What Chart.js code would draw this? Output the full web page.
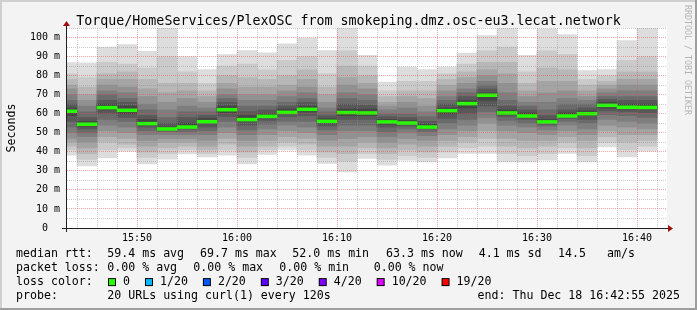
<!DOCTYPE html>
<html>
<head>
<meta charset="utf-8">
<script src="https://cdn.jsdelivr.net/npm/chart.js@4.4.1/dist/chart.umd.min.js"></script>
<style>
  html, body { margin: 0; padding: 0; background: #f3f3f3; }
  canvas { display: block; }
</style>
</head>
<body>
<canvas id="graph" width="697" height="310"></canvas>
<script>
// one bar every 2 minutes, labelled by its centre time
const slots = ['15:43', '15:45', '15:47', '15:49', '15:51', '15:53', '15:55', '15:57', '15:59', '16:01',
               '16:03', '16:05', '16:07', '16:09', '16:11', '16:13', '16:15', '16:17', '16:19', '16:21',
               '16:23', '16:25', '16:27', '16:29', '16:31', '16:33', '16:35', '16:37', '16:39', '16:41'];

// median rtt (ms) per bar
const medians = [61.3, 54.5, 63.2, 61.8, 54.8, 52.0, 53.0, 55.8, 62.1, 56.9,
                 58.6, 60.7, 62.3, 56.0, 60.6, 60.4, 55.7, 55.1, 53.0, 61.6,
                 65.3, 69.7, 60.4, 58.8, 55.7, 58.8, 60.0, 64.4, 63.4, 63.3];

// the 20 sorted pings (ms) of every bar
const pings = [
  [38.2, 41, 43, 45, 47, 50, 53, 56, 59, 61, 61.6, 63, 65, 67, 70, 73, 75, 78, 81, 86.8],
  [32.6, 36, 39, 42, 45, 48, 50, 52, 53.5, 54.3, 54.7, 56, 58, 61, 64, 67, 70, 74, 79, 86.7],
  [36.8, 41, 45, 48, 51, 54, 57, 60, 62, 63, 63.4, 65, 67, 70, 72, 75, 78, 81, 87, 95],
  [40.3, 42, 44, 47, 50, 53, 56, 58, 60, 61.5, 62.1, 64, 66, 68, 71, 74, 78, 82, 86, 96.3],
  [33.7, 37, 40, 43, 46, 49, 51, 53, 54, 54.6, 55, 57, 59, 62, 65, 69, 73, 78, 84, 92.7],
  [36.1, 39, 42, 45, 47, 49, 50.5, 51, 51.5, 51.8, 52.2, 53, 55, 58, 62, 66, 71, 76, 90, 109],
  [38.9, 41, 43, 45, 47, 49, 50.5, 52, 52.6, 52.9, 53.1, 55, 58, 61, 64, 68, 72, 76, 82, 90],
  [37.3, 39, 41, 43, 46, 49, 51, 53, 55, 55.6, 56, 57.5, 59, 61, 63, 66, 69, 72, 76, 83.2],
  [38.2, 41, 44, 47, 50, 53, 56, 58.5, 60.5, 61.8, 62.4, 64, 66, 68, 70, 73, 76, 80, 85, 91],
  [33.7, 37, 40, 43, 46, 49, 51.5, 54, 56, 56.7, 57.1, 59, 61, 64, 67, 70, 74, 79, 86, 93.2],
  [38.6, 41, 43, 46, 49, 52, 54.5, 56.5, 58, 58.4, 58.8, 60, 62, 64, 67, 70, 74, 78, 83, 92],
  [41, 43, 45, 48, 51, 54, 56, 58.5, 60, 60.5, 60.9, 62.5, 64, 66, 69, 72, 75, 80, 88, 96.7],
  [38.2, 41, 44, 47, 50, 53, 56, 59, 61, 62.1, 62.5, 64, 66, 68, 71, 74, 78, 83, 90, 99.6],
  [33.9, 37, 40, 43, 46, 49, 51.5, 53.5, 55, 55.8, 56.2, 57.5, 59, 61, 63, 66, 70, 74, 81, 93.2],
  [29.5, 35, 39, 43, 47, 51, 54, 57, 59, 60.4, 60.8, 62.5, 65, 68, 71, 75, 79, 85, 93, 110],
  [36.5, 39, 42, 45, 48, 51, 54, 57, 59, 60.2, 60.6, 62.5, 64.5, 67, 70, 73, 76, 80, 85, 90.6],
  [33, 36, 39, 42, 45, 48, 50.5, 53, 54.5, 55.5, 55.9, 57, 58.5, 60, 62, 64, 66, 69, 72, 76.6],
  [35.6, 38, 41, 44, 47, 50, 52, 53.5, 54.5, 55, 55.2, 56.5, 58, 60, 63, 66, 69, 72, 77, 84.5],
  [34.7, 37, 40, 43, 46, 48.5, 50.5, 52, 52.7, 52.9, 53.1, 54.5, 56, 58.5, 61, 64, 68, 72, 77, 83.2],
  [36.8, 40, 43, 46, 49, 52, 55, 57.5, 60, 61.4, 61.8, 63, 65, 67, 69, 72, 75, 78, 81, 84.5],
  [39.1, 42, 45, 48, 51, 54, 57, 60, 63, 65, 65.6, 67, 69, 71, 73, 76, 79, 82, 86, 91.8],
  [39.1, 43, 47, 51, 55, 58, 61, 64, 67, 69.5, 69.9, 71, 73, 75, 77, 80, 83, 87, 93, 101],
  [34.7, 39, 43, 47, 51, 54, 56.5, 58.5, 59.5, 60.2, 60.6, 62, 64, 67, 71, 76, 81, 87, 95, 110],
  [34.7, 38, 42, 46, 50, 53, 55, 57, 58, 58.6, 59, 60.5, 62, 64, 66, 69, 72, 76, 82, 90.6],
  [35.6, 39, 43, 46, 49, 51.5, 53.5, 54.5, 55.2, 55.5, 55.9, 57, 59, 62, 66, 71, 77, 84, 93, 104.5],
  [39.1, 42, 45, 48, 51, 54, 56, 57.5, 58.3, 58.6, 59, 60.5, 62, 65, 68, 72, 77, 83, 91, 101.6],
  [34.7, 38, 42, 46, 49, 52, 55, 57, 59, 59.8, 60.2, 61.5, 63, 65, 67, 69, 72, 75, 78, 82.7],
  [42.6, 45, 48, 51, 54, 57, 59.5, 61.5, 63, 64.2, 64.6, 66, 67.5, 69, 71, 73, 75, 77, 80, 83.2],
  [37.3, 41, 45, 49, 53, 56, 59, 61, 62.5, 63.2, 63.6, 65, 67, 69, 72, 75, 78, 82, 88, 98.4],
  [40.3, 43, 46, 49, 52, 55, 58, 60.5, 62.5, 63.1, 63.5, 65, 67, 69, 72, 75, 78, 82, 90, 110]
];

const xTickLabels = ['15:50', '16:00', '16:10', '16:20', '16:30', '16:40'];
const yMax = 105;

const lossLabels = ['0', '1/20', '2/20', '3/20', '4/20', '10/20', '19/20'];
const lossColors = ['#26ff00', '#00b8ff', '#0059ff', '#5e00ff', '#7e00ff', '#dd00ff', '#ff0000'];

const title = 'Torque/HomeServices/PlexOSC from smokeping.dmz.osc-eu3.lecat.network';
const rttStats = ['59.4 ms avg', '69.7 ms max', '52.0 ms min', '63.3 ms now', '4.1 ms sd', '14.5', 'am/s'];
const lossStats = ['0.00 % avg', '0.00 % max', '0.00 % min', '0.00 % now'];
const probeText = '20 URLs using curl(1) every 120s';
const endText = 'end: Thu Dec 18 16:42:55 2025';

const MONO = '"DejaVu Sans Mono", monospace';
const toMin = s => { const [h, m] = s.split(':').map(Number); return (h - 15) * 60 + m; };
const xMin = toMin(slots[0]);
const xMax = xMin + 60;

// smokeping greys: outer pair light, inner pair dark
const grey = i => { const g = Math.round(190 / 10 * (10 - i)) + 50; return `rgb(${g},${g},${g})`; };

const barBase = { grouped: false, barPercentage: 1, categoryPercentage: 1, borderWidth: 0 };
const datasets = [{
    ...barBase,
    label: 'median',
    data: slots.map((s, k) => ({ x: toMin(s), y: [medians[k] - 0.75, medians[k] + 0.75] })),
    backgroundColor: lossColors[0],
    order: 0
}];
for (let i = 10; i >= 1; i--) {
    datasets.push({
        ...barBase,
        label: 'smoke' + i,
        data: slots.map((s, k) => ({ x: toMin(s), y: [pings[k][i - 1], pings[k][20 - i]] })),
        backgroundColor: grey(i),
        order: 11 - i
    });
}

const GRID = 'rgba(143,143,143,0.45)';
const MGRID = 'rgba(222,81,81,0.5)';

const rrdLook = {
    id: 'rrdLook',
    beforeDraw(chart) {
        const { ctx, width, height, chartArea: a } = chart;
        ctx.save();
        ctx.fillStyle = '#f3f3f3';
        ctx.fillRect(0, 0, width, height);
        ctx.fillStyle = '#cfcfcf';
        ctx.fillRect(0, 0, width, 2);
        ctx.fillRect(0, 0, 2, height);
        ctx.fillStyle = '#9e9e9e';
        ctx.fillRect(0, height - 2, width, 2);
        ctx.fillRect(width - 2, 0, 2, height);
        ctx.fillStyle = '#ffffff';
        ctx.fillRect(a.left, a.top, a.right - a.left, a.bottom - a.top);
        ctx.restore();
    },
    afterDraw(chart) {
        const { ctx, chartArea: a } = chart;
        ctx.save();
        // axes with arrows
        ctx.strokeStyle = '#202020';
        ctx.lineWidth = 1;
        ctx.beginPath();
        ctx.moveTo(a.left - 5, a.bottom + 0.5);
        ctx.lineTo(a.right + 3, a.bottom + 0.5);
        ctx.moveTo(a.left - 0.5, a.bottom + 4);
        ctx.lineTo(a.left - 0.5, a.top - 4);
        ctx.stroke();
        ctx.fillStyle = '#a01010';
        ctx.beginPath();
        ctx.moveTo(a.right + 6, a.bottom + 0.5);
        ctx.lineTo(a.right + 1, a.bottom - 3);
        ctx.lineTo(a.right + 1, a.bottom + 4);
        ctx.closePath();
        ctx.fill();
        ctx.beginPath();
        ctx.moveTo(a.left - 0.5, a.top - 7);
        ctx.lineTo(a.left - 4, a.top - 2);
        ctx.lineTo(a.left + 3, a.top - 2);
        ctx.closePath();
        ctx.fill();

        // title
        ctx.fillStyle = '#000';
        ctx.font = '13.3px ' + MONO;
        ctx.textAlign = 'center';
        ctx.textBaseline = 'alphabetic';
        ctx.fillText(title, 348.5, 24.5);

        // vertical texts
        ctx.font = '11.6px ' + MONO;
        ctx.save();
        ctx.translate(15, (a.top + a.bottom) / 2);
        ctx.rotate(-Math.PI / 2);
        ctx.fillText('Seconds', 0, 0);
        ctx.restore();
        ctx.save();
        ctx.translate(685, 5);
        ctx.rotate(Math.PI / 2);
        ctx.textAlign = 'left';
        ctx.fillStyle = '#b4b4b4';
        ctx.font = '8.3px ' + MONO;
        ctx.fillText('RRDTOOL / TOBI OETIKER', 0, 0);
        ctx.restore();

        // legend
        ctx.textAlign = 'left';
        ctx.font = '11.6px ' + MONO;
        const rows = [257.3, 271.2, 285.1, 299];
        ctx.fillText('median rtt:', 16, rows[0]);
        [107.3, 200, 292.3, 386, 478.7, 558, 607].forEach((x, k) => ctx.fillText(rttStats[k], x, rows[0]));
        ctx.fillText('packet loss:', 16, rows[1]);
        [107.3, 193.3, 279.3, 373.7].forEach((x, k) => ctx.fillText(lossStats[k], x, rows[1]));
        ctx.fillText('loss color:', 16, rows[2]);
        let x = 108;
        lossLabels.forEach((lab, k) => {
            ctx.fillStyle = '#000';
            ctx.fillRect(x, rows[2] - 7, 8, 8);
            ctx.fillStyle = lossColors[k];
            ctx.fillRect(x + 1, rows[2] - 6, 6, 6);
            ctx.fillStyle = '#000';
            ctx.fillText(lab, x + 15, rows[2]);
            x += 15 + ctx.measureText(lab).width + 15;
        });
        ctx.fillText('probe:', 16, rows[3]);
        ctx.fillText(probeText, 107.3, rows[3]);
        ctx.textAlign = 'right';
        ctx.fillText(endText, 680, rows[3]);
        ctx.restore();
    }
};

const xTicks = [];
for (let m = Math.ceil(xMin / 2) * 2; m <= xMax; m += 2) xTicks.push(m);
const yTicks = [];
for (let v = 0; v <= yMax; v += 5) yTicks.push(v);

new Chart(document.getElementById('graph'), {
    type: 'bar',
    data: { datasets: datasets },
    options: {
        responsive: false,
        animation: false,
        layout: { padding: { left: 0, right: 30, top: 28, bottom: 62 } },
        plugins: { legend: { display: false }, tooltip: { enabled: false }, title: { display: false } },
        scales: {
            x: {
                type: 'linear',
                min: xMin,
                max: xMax,
                offset: false,
                afterBuildTicks: s => { s.ticks = xTicks.map(v => ({ value: v })); },
                afterFit: s => { s.height = 20; },
                grid: {
                    offset: false,
                    z: 1,
                    drawTicks: false,
                    color: c => (c.tick && c.tick.value % 10 === 0) ? MGRID : GRID
                },
                border: { display: false, dash: [1, 1] },
                ticks: {
                    autoSkip: false,
                    maxRotation: 0,
                    minRotation: 0,
                    padding: 4,
                    color: '#000',
                    font: { family: MONO, size: 10 },
                    callback: v => xTickLabels.find(l => toMin(l) === v) || ''
                }
            },
            y: {
                type: 'linear',
                min: 0,
                max: yMax,
                afterBuildTicks: s => { s.ticks = yTicks.map(v => ({ value: v })); },
                afterFit: s => { s.width = 67; },
                grid: {
                    z: 1,
                    drawTicks: false,
                    color: c => (c.tick && c.tick.value % 10 === 0) ? MGRID : GRID
                },
                border: { display: false, dash: [1, 1] },
                ticks: {
                    autoSkip: false,
                    padding: 7,
                    color: '#000',
                    font: { family: MONO, size: 10 },
                    callback: v => v % 10 !== 0 ? '' : (v === 0 ? '  0  ' : String(v).padStart(3) + ' m')
                }
            }
        }
    },
    plugins: [rrdLook]
});
</script>
</body>
</html>
